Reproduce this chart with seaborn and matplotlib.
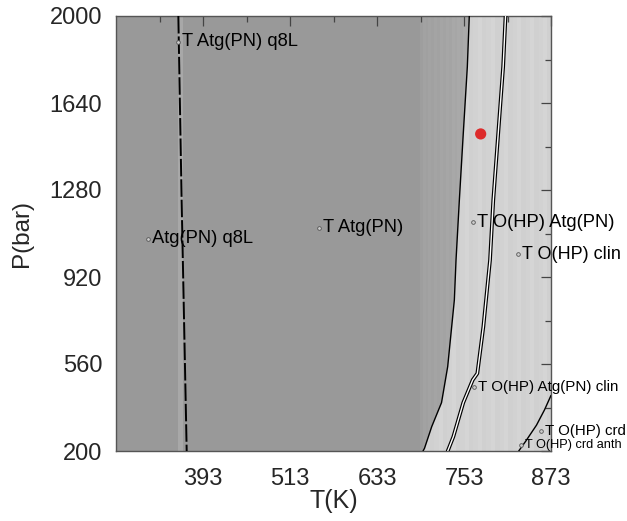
import numpy as np
import pandas as pd
import matplotlib
matplotlib.use("Agg")
import matplotlib.pyplot as plt
from matplotlib.patches import Polygon
import seaborn as sns

# ---------------- data ----------------
T_MIN, T_MAX = 273, 873
P_MIN, P_MAX = 200, 2000
x_major = [393, 513, 633, 753, 873]
x_minor = [333, 453, 573, 693, 813]
y_major = [200, 560, 920, 1280, 1640, 2000]
y_minor = [380, 740, 1100, 1460, 1820]

# boundary 1 (dashed, nearly vertical)
b1_T = [359.0, 363.5, 370.5]
b1_P = [2000, 1240, 200]
# boundary 2 (dark / light field limit), top -> bottom
b2_T = [760.3, 757.6, 752.0, 746.6, 742.0, 739.7, 730.5, 722.0, 708.5, 698.5, 696.5]
b2_P = [2000, 1790, 1514, 1239, 990, 825, 549, 400, 301, 211, 200]
# boundary 3 (double line), top -> bottom
b3_T = [810.3, 807.0, 800.2, 793.4, 788.9, 779.7, 771.4, 765.0, 752.0, 738.3, 732.0, 730.5]
b3_P = [2000, 1790, 1514, 1239, 990, 714, 521, 494, 400, 259, 211, 200]
# boundary 4 (lower right)
b4_T = [828.5, 838.0, 853.0, 864.0, 873.0]
b4_P = [200, 240, 307, 370, 430]

# field labels
lab_text = ["T Atg(PN) q8L", "Atg(PN) q8L", "T Atg(PN)", "T O(HP) Atg(PN)",
            "T O(HP) clin", "T O(HP) Atg(PN) clin", "T O(HP) crd", "T O(HP) crd anth"]
lab_T = [358.5, 317.0, 553.0, 765.4, 827.5, 767.0, 859.0, 831.6]
lab_P = [1894, 1079, 1123, 1147, 1015, 464, 284, 225]
lab_size = [13.2, 13.2, 13.2, 13.2, 13.0, 10.9, 10.8, 9.2]

# observed sample
dot_T = [776]
dot_P = [1512]

# ---------------- figure ----------------
sns.set_style("white")
plt.rcParams["font.family"] = ["Liberation Sans", "DejaVu Sans"]

W, H = 627, 521
fig = plt.figure(figsize=(W / 100, H / 100), dpi=100)
ax = fig.add_axes([116 / W, (H - 451) / H, 435 / W, 435 / H])
ax.set_xlim(T_MIN, T_MAX)
ax.set_ylim(P_MIN, P_MAX)

DARK = "#999999"
LIGHT = "#d3d3d3"
LIGHT2 = "#cfcfcf"

regA = Polygon(list(zip([T_MIN, T_MIN] + b2_T[::-1], [P_MAX, P_MIN] + b2_P[::-1])),
               closed=True, fc=DARK, ec="none", zorder=0)
regB = Polygon(list(zip(b2_T + b3_T[::-1], b2_P + b3_P[::-1])),
               closed=True, fc=LIGHT, ec="none", zorder=0)
regC = Polygon(list(zip(b3_T + [T_MAX, T_MAX], b3_P + [P_MIN, P_MAX])),
               closed=True, fc=LIGHT2, ec="none", zorder=0)
for p in (regA, regB, regC):
    ax.add_patch(p)

# shading stripes (style only)
band_edges = np.arange(692, 766, 4)
for i, t0 in enumerate(band_edges[:-1]):
    g = 0.625 + 0.045 * i / len(band_edges) + (0.006 if i % 2 else -0.004)
    s = ax.axvspan(t0, band_edges[i + 1], color=str(g), lw=0, zorder=0.5)
    s.set_clip_path(regA)
light_edges = np.arange(700, 880, 6)
for i, t0 in enumerate(light_edges[:-1]):
    g = 0.835 if i % 3 == 0 else (0.815 if i % 3 == 1 else 0.825)
    for reg in (regB, regC):
        s = ax.axvspan(t0, light_edges[i + 1], color=str(g), lw=0, zorder=0.5)
        s.set_clip_path(reg)
ax.axvspan(359, 366, color="#a8a8a8", lw=0, zorder=0.6)

# boundaries
def line(T, P, **kw):
    sns.lineplot(data=pd.DataFrame({"T": T, "P": P}), x="T", y="P", sort=False,
                 estimator=None, ax=ax, legend=False, **kw)

line(b1_T, b1_P, color="black", lw=1.4, linestyle=(0, (9, 1.5)), zorder=3)
line(b2_T, b2_P, color="black", lw=1.0, zorder=3)
line(b3_T, b3_P, color="black", lw=2.7, zorder=3)
line(b3_T, b3_P, color="white", lw=1.0, zorder=3.1)
line(b4_T, b4_P, color="black", lw=1.0, zorder=3)

# labels
sns.scatterplot(x=lab_T, y=lab_P, ax=ax, s=7, color="#cccccc", edgecolor="#555555",
                linewidth=0.6, zorder=4, legend=False, clip_on=False)
for t, p, s, fs in zip(lab_T, lab_P, lab_text, lab_size):
    ax.annotate(s, (t, p), xytext=(3, 0), textcoords="offset points",
                ha="left", va="center", fontsize=fs, color="black",
                annotation_clip=False, zorder=5)

sns.scatterplot(x=dot_T, y=dot_P, ax=ax, s=65, color="#dd2b2b", edgecolor="none",
                zorder=6, legend=False)

# axes styling
ax.set_xticks(x_major)
ax.set_xticks(x_minor, minor=True)
ax.set_yticks(y_major)
ax.set_yticks(y_minor, minor=True)
ax.tick_params(which="both", direction="in", top=True, right=True,
               color="#444444", width=0.9)
ax.tick_params(which="major", length=7)
ax.tick_params(which="minor", length=4.5)
ax.tick_params(axis="x", which="major", labelsize=17, pad=12)
ax.tick_params(axis="y", which="major", labelsize=17, pad=10)
for sp in ax.spines.values():
    sp.set_color("#555555")
    sp.set_linewidth(1.0)

ax.set_xlabel("T(K)", fontsize=18)
ax.set_ylabel("P(bar)", fontsize=17.5)
ax.xaxis.set_label_coords(0.5, (451 - 489) / 435)
ax.yaxis.set_label_coords((33 - 116) / 435, 0.5)

fig.savefig("out.png", dpi=100)
